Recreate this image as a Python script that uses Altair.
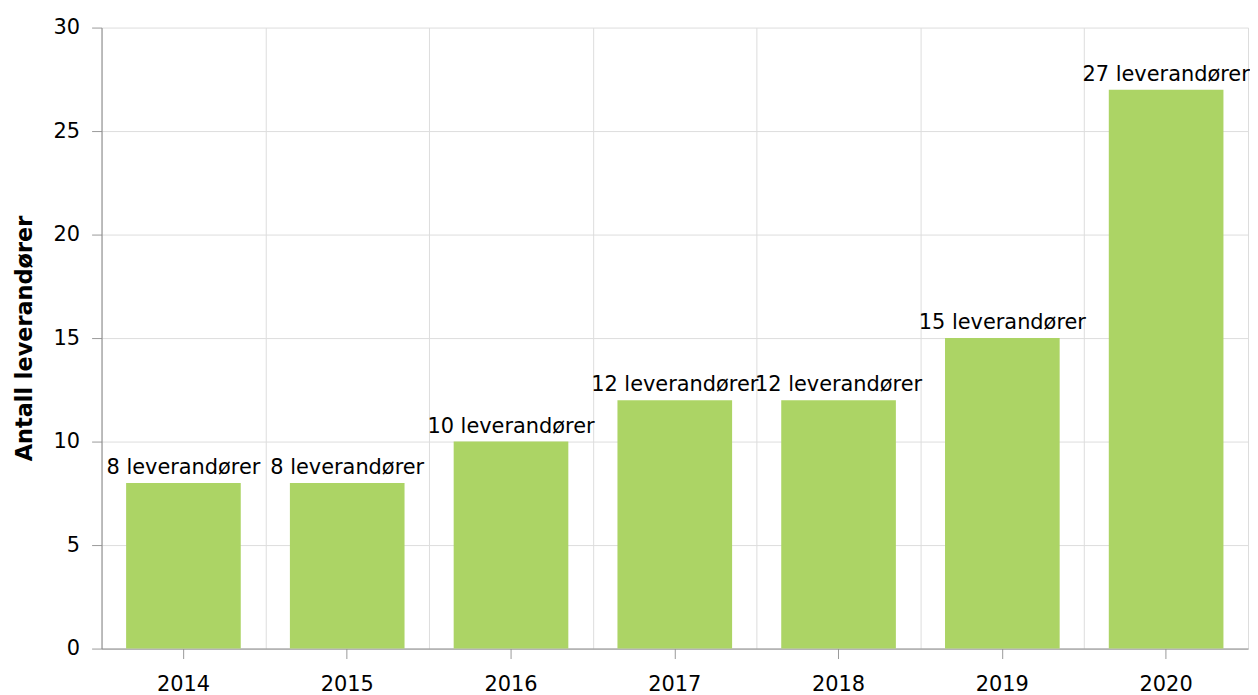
import altair as alt
import pandas as pd

years = ["2014", "2015", "2016", "2017", "2018", "2019", "2020"]
counts = [8, 8, 10, 12, 12, 15, 27]
suffix = " leverandører"

df = pd.DataFrame({"year": years, "count": counts})

FONT = "DejaVu Sans"
x_scale = alt.Scale(paddingInner=0.3, paddingOuter=0.15)
y_scale = alt.Scale(domain=[0, 30])

bars = alt.Chart(df).mark_bar(color="#acd465").encode(
    x=alt.X("year:N", scale=x_scale, sort=years,
            axis=alt.Axis(title=None, labelAngle=0, grid=False, tickSize=10,
                          labelPadding=15, labelFontSize=21, labelColor="#000",
                          labelFont=FONT, domainColor="#888", tickColor="#999",
                          orient="bottom")),
    y=alt.Y("count:Q", scale=y_scale,
            axis=alt.Axis(title="Antall leverandører", values=[0, 5, 10, 15, 20, 25, 30],
                          titleFont=FONT, titleFontSize=22.5, titleFontWeight="bold",
                          titleColor="#000", titlePadding=17,
                          labelFont=FONT, labelFontSize=21, labelColor="#000",
                          labelPadding=12, tickSize=10, tickColor="#999",
                          domainColor="#888", gridColor="#dddddd")),
)

grid = alt.Chart(df).mark_bar(opacity=0).encode(
    x=alt.X("year:N", scale=alt.Scale(paddingInner=0, paddingOuter=0), sort=years,
            axis=alt.Axis(title=None, labels=False, ticks=False, domain=False,
                          grid=True, tickBand="extent", gridColor="#dddddd",
                          orient="top")),
    y=alt.Y("count:Q", scale=y_scale),
)

text = alt.Chart(df).transform_calculate(
    label="datum.count + '" + suffix + "'"
).mark_text(font=FONT, fontSize=21, dy=-9, baseline="alphabetic", color="#000").encode(
    x=alt.X("year:N", scale=x_scale, sort=years, axis=None),
    y=alt.Y("count:Q", scale=y_scale),
    text="label:N",
)

chart = alt.layer(grid, bars, text).resolve_scale(x="independent").resolve_axis(
    x="independent"
).properties(
    width=1152, height=624,
    padding={"left": 5, "top": 7, "right": 0, "bottom": 0},
).configure_view(stroke=None)

chart.save("out.html", embed_options={"renderer": "svg", "actions": False})
